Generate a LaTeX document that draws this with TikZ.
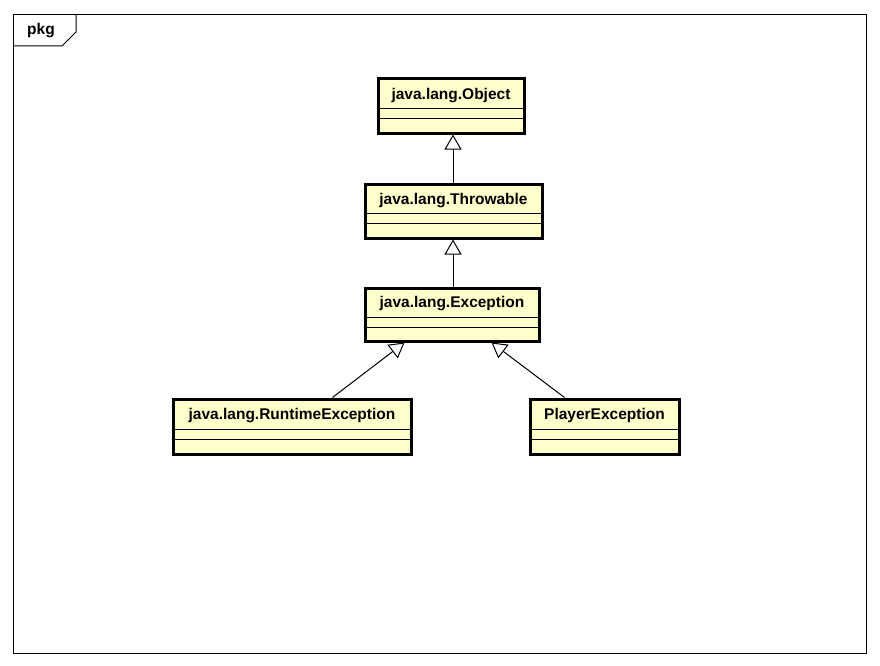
\documentclass[tikz,border=0pt]{standalone}
\usepackage{fontspec}
\setmainfont{Liberation Sans}
\usetikzlibrary{arrows.meta,calc}
\definecolor{classfill}{HTML}{FFFFCC}
\tikzset{
  classbox/.style={draw=black, line width=3pt, fill=classfill, rectangle, inner sep=0pt},
  classname/.style={font=\fontsize{15.5}{18}\selectfont\bfseries, inner sep=0pt, anchor=center},
  comp/.style={line width=1.1pt},
  inh/.style={line width=1pt, -{Triangle[open, fill=white, length=15pt, width=17pt, line width=1pt]}},
  frameline/.style={line width=1pt}
}
\begin{document}
\begin{tikzpicture}[x=1pt,y=-1pt]
\useasboundingbox (0,0) rectangle (880,666);
% package frame
\draw[frameline] (13.5,14.5) rectangle (866.5,653.5);
\draw[frameline] (13.5,46) -- (62,46) -- (76,32) -- (76,14.5);
\node[font=\fontsize{15.5}{18}\selectfont\bfseries, inner sep=0pt] (pkg) at (41,31) {pkg};
% classes
\node[classbox, minimum width=146pt, minimum height=54pt] (obj) at (451,106) {};
\node[classbox, minimum width=177pt, minimum height=54pt] (thr) at (453.5,211) {};
\node[classbox, minimum width=174pt, minimum height=53pt] (exc) at (452,314.5) {};
\node[classbox, minimum width=238pt, minimum height=55pt] (rte) at (292,426.5) {};
\node[classbox, minimum width=149pt, minimum height=55pt] (ple) at (604.5,426.5) {};
% names
\node[classname] (objt) at ($(obj.north)+(0,18)$) {java.lang.Object};
\node[classname] (thrt) at ($(thr.north)+(0,18)$) {java.lang.Throwable};
\node[classname] (exct) at ($(exc.north)+(0,17)$) {java.lang.Exception};
\node[classname] (rtet) at ($(rte.north)+(0,18)$) {java.lang.RuntimeException};
\node[classname] (plet) at ($(ple.north)+(0,18)$) {PlayerException};
% compartments
\foreach \n/\a/\b in {obj/31/41, thr/31/41, exc/31/41, rte/32/42, ple/32/42}{
  \draw[comp] ($(\n.north west)+(0,\a)$) -- ($(\n.north east)+(0,\a)$);
  \draw[comp] ($(\n.north west)+(0,\b)$) -- ($(\n.north east)+(0,\b)$);
}
% inheritance
\draw[inh] (thr.north -| obj.south) ++(2,0) coordinate (t1) -- (t1 |- obj.south);
\draw[inh] (exc.north) ++(1,0) coordinate (e1) -- (e1 |- thr.south);
\coordinate (r1) at ($(rte.north west)+(161,0)$);
\coordinate (r2) at ($(exc.south west)+(41,0)$);
\draw[inh] (r1) -- (r2);
\coordinate (p1) at ($(ple.north west)+(36,0)$);
\coordinate (p2) at ($(exc.south west)+(128,0)$);
\draw[inh] (p1) -- (p2);
\end{tikzpicture}
\end{document}
